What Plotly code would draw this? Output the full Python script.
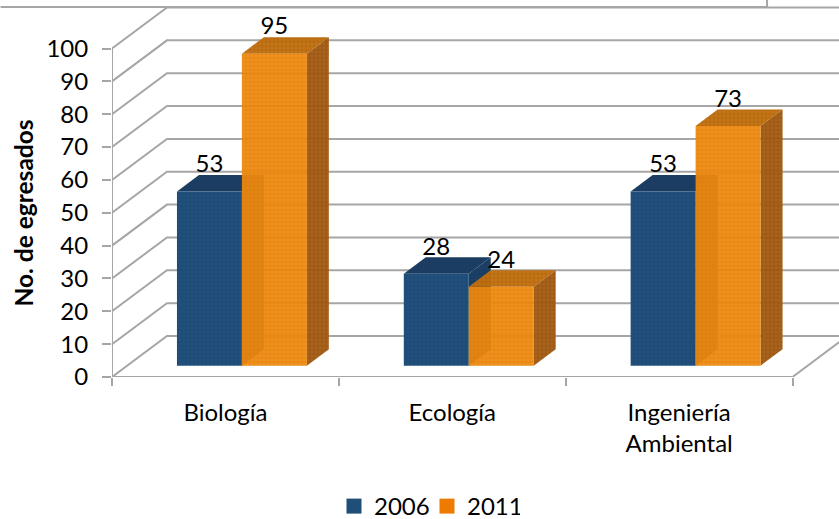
import plotly.graph_objects as go

categories = ["Biología", "Ecología", "Ingeniería<br>Ambiental"]
series_names = ["2006", "2011"]
values_2006 = [53, 28, 53]
values_2011 = [95, 24, 73]
y_ticks = list(range(0, 101, 10))

W, H = 839, 519
AX_L, AX_B = 111.5, 377.0       # pixel position of the axis corner
PX_X, PX_Y = 227.0, 3.285       # pixels per category / per value unit
GRID = "#A6A6A6"
FONT = "Lato"

WALL_DX, WALL_DY = 55 / PX_X, 41 / PX_Y       # depth of the floor
BAR_DX0, BAR_DY0 = 16.5 / PX_X, 11.3 / PX_Y   # front plane of the bars
BAR_DX, BAR_DY = 22 / PX_X, 16.5 / PX_Y       # depth of a bar
BAR_W = 65 / PX_X
GAP = (1 - 2 * BAR_W) / 2
LABEL_DROP = 1.0                              # labels sit slightly into the bar top

fig = go.Figure()

# back wall grid and floor edges
gx, gy = [], []
x_end = (W - AX_L) / PX_X
for t in y_ticks:
    gx += [0, WALL_DX, x_end, None]
    gy += [t, t + WALL_DY, t + WALL_DY, None]
gx += [3, 3 + WALL_DX]
gy += [0, WALL_DY]
fig.add_trace(go.Scatter(x=gx, y=gy, mode="lines", line=dict(color=GRID, width=2),
                         showlegend=False, hoverinfo="skip"))

# axis lines
fig.add_trace(go.Scatter(x=[0, 0, None, 0, 3], y=[100, 0, None, 0, 0], mode="lines",
                         line=dict(color=GRID, width=2), cliponaxis=False,
                         showlegend=False, hoverinfo="skip"))


def face(xs, ys, color, pat):
    fig.add_trace(go.Scatter(
        x=xs + [xs[0]], y=ys + [ys[0]], mode="lines", fill="toself", fillcolor=color,
        line=dict(width=0), showlegend=False, hoverinfo="skip",
        fillpattern=dict(shape="+", size=4, solidity=0.3, fgcolor=pat, bgcolor=color, fgopacity=0.8),
    ))


def bar3d(x0, v, front, top, side, pat_front, pat_top, pat_side):
    x0 += BAR_DX0
    x1 = x0 + BAR_W
    b = BAR_DY0
    t = BAR_DY0 + v
    face([x0, x1, x1 + BAR_DX, x0 + BAR_DX], [t, t, t + BAR_DY, t + BAR_DY], top, pat_top)
    face([x1, x1 + BAR_DX, x1 + BAR_DX, x1], [b, b + BAR_DY, t + BAR_DY, t], side, pat_side)
    face([x0, x1, x1, x0], [b, b, t, t], front, pat_front)


label_x, label_y, label_t = [], [], []
for i in range(3):
    bar3d(i + GAP, values_2006[i], "rgba(33,80,125,1)", "rgba(29,62,100,1)", "rgba(27,64,102,1)",
          "#1B4470", "#17375A", "#17375A")
for i in range(3):
    bar3d(i + GAP + BAR_W, values_2011[i], "rgba(240,138,15,0.93)", "rgba(196,112,12,0.96)",
          "rgba(168,94,18,0.96)", "#DF7E06", "#A55E0C", "#8A4B0E")
for i in range(3):
    for k, vals in enumerate((values_2006, values_2011)):
        label_x.append(i + GAP + BAR_W * k + BAR_W / 2 + BAR_DX0)
        label_y.append(vals[i] + BAR_DY0 + BAR_DY - LABEL_DROP)
        label_t.append(str(vals[i]))

fig.add_trace(go.Scatter(x=label_x, y=label_y, text=label_t, mode="text", textposition="top center",
                         textfont=dict(family=FONT, size=24, color="#000000"),
                         cliponaxis=False, showlegend=False, hoverinfo="skip"))

# legend keys
for name, col in zip(series_names, ["#1F4E79", "#EE7B00"]):
    fig.add_trace(go.Scatter(x=[None], y=[None], mode="markers", name=name,
                             marker=dict(symbol="square", size=15, color=col)))

# category labels on a second x axis
fig.add_trace(go.Scatter(x=[0.5, 1.5, 2.5], y=[0, 0, 0], xaxis="x2", mode="markers",
                         marker=dict(opacity=0), showlegend=False, hoverinfo="skip"))

fig.update_layout(
    width=W, height=H, autosize=False,
    margin=dict(l=AX_L, r=0, t=0, b=H - AX_B, pad=0),
    paper_bgcolor="white", plot_bgcolor="white",
    font=dict(family=FONT, size=24, color="#000000"),
    xaxis=dict(range=[0, x_end], tickmode="array", tickvals=[0, 1, 2, 3], ticktext=["", "", "", ""],
               ticks="outside", ticklen=8, tickwidth=2, tickcolor=GRID, showgrid=False,
               zeroline=False, showline=False),
    xaxis2=dict(overlaying="x", side="bottom", anchor="y", range=[0, x_end], tickmode="array",
                tickvals=[0.5, 1.5, 2.5], ticktext=categories, ticks="outside", ticklen=14,
                tickcolor="rgba(0,0,0,0)", showgrid=False, zeroline=False, showline=False,
                tickfont=dict(family=FONT, size=24)),
    yaxis=dict(range=[0, AX_B / PX_Y], tickmode="array", tickvals=y_ticks, ticks="outside",
               ticklen=9, tickwidth=2, tickcolor=GRID, showgrid=False, zeroline=False, showline=False,
               ticklabelstandoff=9, tickfont=dict(family=FONT, size=24)),
    legend=dict(orientation="h", xref="container", yref="container", x=334 / W, xanchor="left",
                y=(H - 484) / H, yanchor="top", font=dict(family=FONT, size=24),
                bgcolor="rgba(0,0,0,0)", itemsizing="trace", entrywidth=48, entrywidthmode="pixels"),
    annotations=[
        dict(text="<b>No. de egresados</b>", textangle=-90, showarrow=False,
             xref="paper", yref="paper", x=(22 - AX_L) / (W - AX_L), y=(AX_B - 213) / AX_B,
             xanchor="center", yanchor="middle", font=dict(family=FONT, size=24.5, color="#000000")),
    ],
    shapes=[
        dict(type="line", xref="paper", yref="paper", x0=-AX_L / (W - AX_L), x1=(767 - AX_L) / (W - AX_L),
             y0=(AX_B - 7) / AX_B, y1=(AX_B - 7) / AX_B, line=dict(color=GRID, width=2)),
        dict(type="line", xref="paper", yref="paper", x0=(767 - AX_L) / (W - AX_L), x1=(767 - AX_L) / (W - AX_L),
             y0=(AX_B - 7) / AX_B, y1=1, line=dict(color=GRID, width=2)),
    ],
)

fig.write_html("out.html", config=dict(displayModeBar=False),
               post_script="document.body.style.margin='0';")
